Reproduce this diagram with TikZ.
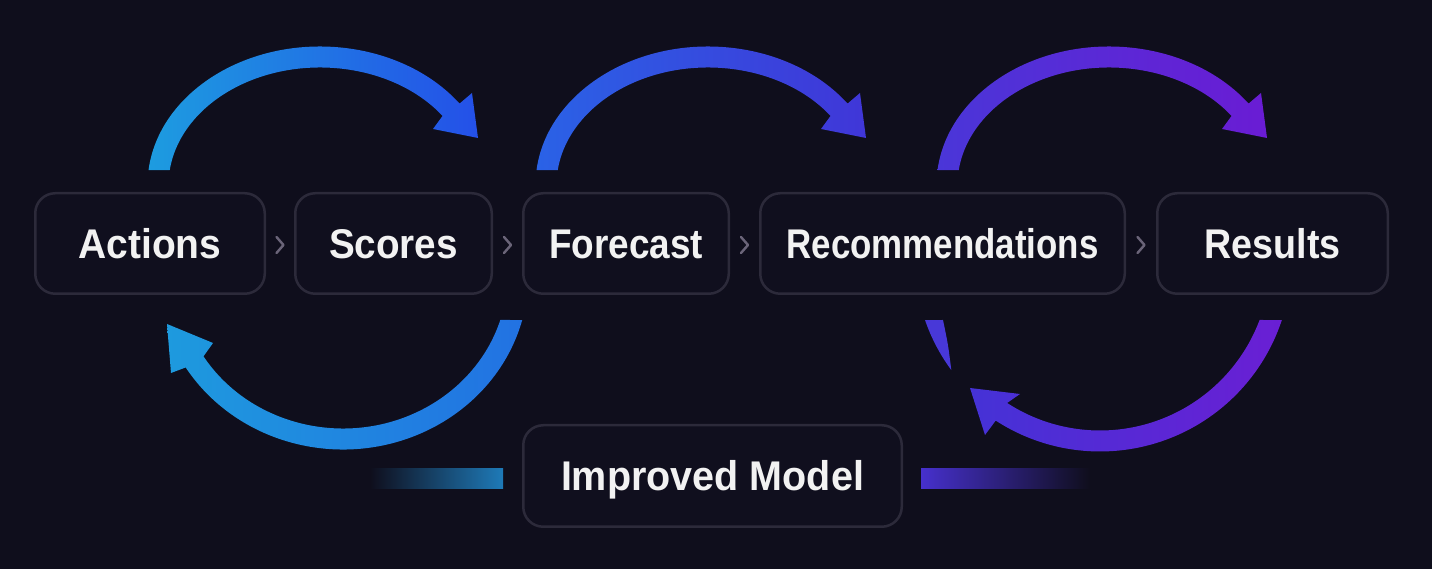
\documentclass[tikz,border=0pt]{standalone}
\usepackage{fontspec}
\setmainfont{Liberation Sans}
\usetikzlibrary{calc}
\definecolor{bg}{HTML}{0F0E1C}
\definecolor{boxbg}{HTML}{100F1E}
\definecolor{boxline}{HTML}{2C2A3A}
\definecolor{txt}{HTML}{F2F2F2}
\definecolor{chev}{HTML}{6A6478}
\definecolor{blA}{HTML}{1E9ADE}
\definecolor{blB}{HTML}{2272E2}
\definecolor{prA}{HTML}{4532D6}
\definecolor{prB}{HTML}{6A1FD4}
\definecolor{frag}{HTML}{4838D8}
\definecolor{barL}{HTML}{1E7AB8}
\definecolor{barR}{HTML}{4630CC}
\newlength\fitlen
\newcommand\fitto[2]{\settowidth\fitlen{#2}\pgfmathsetmacro\fitfac{#1/\fitlen}\scalebox{\fitfac}[1]{#2}}
\tikzset{
  stagebox/.style={draw=boxline, line width=2.5pt, rounded corners=20pt, fill=boxbg,
    minimum height=100.5pt, inner sep=0pt, text=txt,
    font=\fontsize{41.5}{48}\selectfont\bfseries, text height=29.7pt, text depth=0pt},
  chevline/.style={draw=chev, line width=2.4pt, line cap=round, line join=round},
}
\begin{document}
\begin{tikzpicture}[x=1pt,y=1pt]
\fill[bg] (0,0) rectangle (1432,569);
\useasboundingbox (0,0) rectangle (1432,569);

% boxes
\node[stagebox, minimum width=229.5pt] (act) at (150,325.5) {\fitto{143}{Actions}};
\node[stagebox, minimum width=196.5pt] (sco) at (393.5,325.5) {\fitto{129}{Scores}};
\node[stagebox, minimum width=205.5pt] (for) at (626,325.5) {\fitto{154}{Forecast}};
\node[stagebox, minimum width=364.5pt] (rec) at (942.5,325.5) {\fitto{312}{Recommendations}};
\node[stagebox, minimum width=230.5pt] (res) at (1272.5,325.5) {\fitto{136}{Results}};
\node[stagebox, minimum width=378.5pt, minimum height=101.5pt] (imp) at (712.5,93) {\fitto{303}{Improved Model}};

% chevrons
\foreach \a/\b in {act/sco, sco/for, for/rec, rec/res}{
  \coordinate (m) at ($(\a.east)!0.5!(\b.west)+(0,-1.5)$);
  \draw[chevline] ([shift={(-3.5,8)}]m) -- ([shift={(3.5,0)}]m) -- ([shift={(-3.5,-8)}]m);
}

% top arcs
\foreach \dx/\ca/\cb in {0/1D9CE0/2450E8, 388/2A62E6/4036D8, 789/4A36D8/6A1CD4}{
  \begin{scope}[shift={(\dx,0)}]
    \definecolor{ca}{HTML}{\ca}\definecolor{cb}{HTML}{\cb}
    \shade[left color=ca, right color=cb]
      ($(320,384)+(173.8:172.5pt and 138.5pt)$)
      arc[start angle=173.8, end angle=36, x radius=172.5pt, y radius=138.5pt]
      -- (472,476) -- (478,431) -- (433,440)
      -- ($(320,384)+(36:151.5pt and 117.5pt)$)
      arc[start angle=36, end angle=172.7, x radius=151.5pt, y radius=117.5pt]
      -- cycle;
  \end{scope}
}

% bottom left arc
\shade[left color=blA, right color=blB]
  ($(343,294)+(-15:185.5pt and 174.5pt)$)
  arc[start angle=-15, end angle=-148, x radius=185.5pt, y radius=174.5pt]
  -- (171,196) -- (167,245) -- (213,226)
  -- ($(343,294)+(-148:164.5pt and 153.5pt)$)
  arc[start angle=-148, end angle=-17, x radius=164.5pt, y radius=153.5pt]
  -- cycle;

% bottom right arc
\shade[left color=prA, right color=prB]
  ($(1100,309)+(-18.3:191.5pt)$)
  arc[start angle=-18.3, end angle=-123, radius=191.5pt]
  -- (985,134) -- (970,181) -- (1020,175)
  -- ($(1100,309)+(-123:170.5pt)$)
  arc[start angle=-123, end angle=-20.6, radius=170.5pt]
  -- cycle;

% small fragment
\fill[frag]
  ($(1100,309)+(-161:185pt)$)
  arc[start angle=-161, end angle=-143.5, radius=185pt]
  .. controls (948,225) .. (943,249) -- cycle;

% bars
\shade[left color=bg, right color=barL] (370,80) rectangle (503,100);
\shade[left color=barR, right color=bg] (921,80) rectangle (1090,100);
\end{tikzpicture}
\end{document}
